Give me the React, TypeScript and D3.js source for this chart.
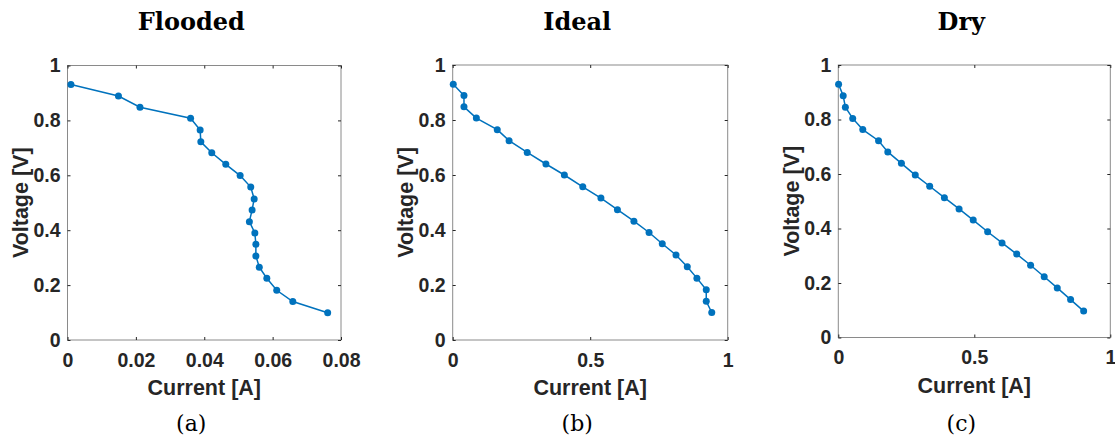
import React, { useEffect, useRef } from 'react';
import * as d3 from 'd3';

// Current [A] / Voltage [V]
const floodedCurrent = [0.001, 0.0149, 0.0212, 0.036, 0.0388, 0.039, 0.0422, 0.0463, 0.0505, 0.0536, 0.0546, 0.054, 0.0532, 0.0548, 0.0551, 0.0551, 0.0561, 0.0583, 0.0612, 0.0659, 0.0761];
const floodedVoltage = [0.931, 0.889, 0.848, 0.808, 0.765, 0.722, 0.682, 0.640, 0.599, 0.557, 0.514, 0.474, 0.431, 0.390, 0.349, 0.306, 0.265, 0.225, 0.181, 0.140, 0.099];

const idealCurrent = [0.002, 0.041, 0.041, 0.086, 0.162, 0.205, 0.271, 0.339, 0.406, 0.473, 0.539, 0.599, 0.659, 0.714, 0.762, 0.812, 0.853, 0.888, 0.922, 0.922, 0.942];
const idealVoltage = [0.930, 0.889, 0.848, 0.807, 0.765, 0.725, 0.682, 0.640, 0.600, 0.557, 0.516, 0.474, 0.432, 0.391, 0.350, 0.309, 0.266, 0.225, 0.183, 0.141, 0.100];

const dryCurrent = [0.001, 0.018, 0.026, 0.053, 0.090, 0.148, 0.182, 0.232, 0.283, 0.336, 0.390, 0.444, 0.496, 0.549, 0.602, 0.656, 0.707, 0.757, 0.805, 0.854, 0.902];
const dryVoltage = [0.929, 0.887, 0.845, 0.804, 0.763, 0.722, 0.681, 0.639, 0.596, 0.555, 0.513, 0.472, 0.431, 0.388, 0.347, 0.306, 0.265, 0.223, 0.182, 0.139, 0.097];

const titles = ['Flooded', 'Ideal', 'Dry'];
const captions = ['(a)', '(b)', '(c)'];
const xTicksFlooded = [0, 0.02, 0.04, 0.06, 0.08];
const xTicksOther = [0, 0.5, 1];
const yTicks = [0, 0.2, 0.4, 0.6, 0.8, 1];

const panels = [
  { cur: floodedCurrent, volt: floodedVoltage, xMax: 0.08, xTicks: xTicksFlooded, left: 67.5, top: 65.5, w: 273.5, h: 274.5 },
  { cur: idealCurrent, volt: idealVoltage, xMax: 1, xTicks: xTicksOther, left: 452.7, top: 65, w: 275, h: 275 },
  { cur: dryCurrent, volt: dryVoltage, xMax: 1, xTicks: xTicksOther, left: 838.3, top: 65, w: 272, h: 272.5 },
];

const fmt = (v: number) => (v === 0 ? '0' : v === 1 ? '1' : String(+v.toFixed(2)));

const App = () => {
  const ref = useRef<SVGSVGElement>(null);

  useEffect(() => {
    const svg = d3.select(ref.current);
    svg.selectAll('*').remove();

    panels.forEach((p, i) => {
      const x = d3.scaleLinear().domain([0, p.xMax]).range([p.left, p.left + p.w]);
      const y = d3.scaleLinear().domain([0, 1]).range([p.top + p.h, p.top]);
      const g = svg.append('g');
      const cx = p.left + p.w / 2;

      g.append('rect')
        .attr('x', p.left).attr('y', p.top)
        .attr('width', p.w).attr('height', p.h)
        .attr('fill', 'white').attr('stroke', '#8a8a8a').attr('stroke-width', 1);

      const tickStyle = (sel: any) => {
        sel.select('.domain').remove();
        sel.selectAll('.tick line').attr('stroke', '#262626');
        sel.selectAll('.tick text')
          .attr('fill', '#262626')
          .attr('font-family', '"Liberation Sans", Arial, sans-serif')
          .attr('font-weight', 'bold')
          .attr('font-size', 19.5);
      };

      g.append('g')
        .attr('transform', `translate(0,${p.top + p.h})`)
        .call(d3.axisBottom(x).tickValues(p.xTicks).tickSize(-3).tickPadding(13).tickFormat(d => fmt(+d)))
        .call(tickStyle);
      g.append('g')
        .attr('transform', `translate(0,${p.top})`)
        .call(d3.axisTop(x).tickValues(p.xTicks).tickSize(-3).tickFormat(() => ''))
        .call(tickStyle);
      g.append('g')
        .attr('transform', `translate(${p.left},0)`)
        .call(d3.axisLeft(y).tickValues(yTicks).tickSize(-3).tickPadding(7).tickFormat(d => fmt(+d)))
        .call(tickStyle);
      g.append('g')
        .attr('transform', `translate(${p.left + p.w},0)`)
        .call(d3.axisRight(y).tickValues(yTicks).tickSize(-3).tickFormat(() => ''))
        .call(tickStyle);

      const pts = p.cur.map((c, k) => [c, p.volt[k]] as [number, number]);
      g.append('path')
        .datum(pts)
        .attr('fill', 'none')
        .attr('stroke', '#0072BD')
        .attr('stroke-width', 1.5)
        .attr('d', d3.line<[number, number]>().x(d => x(d[0])).y(d => y(d[1])));
      g.append('g')
        .attr('fill', '#0072BD')
        .selectAll('circle')
        .data(pts)
        .join('circle')
        .attr('cx', d => x(d[0]))
        .attr('cy', d => y(d[1]))
        .attr('r', 3.5);

      g.append('text')
        .attr('x', cx).attr('y', p.top + p.h + 55)
        .attr('text-anchor', 'middle')
        .attr('fill', '#262626')
        .attr('font-family', '"Liberation Sans", Arial, sans-serif')
        .attr('font-weight', 'bold')
        .attr('font-size', 21.5)
        .text('Current [A]');
      g.append('text')
        .attr('transform', `translate(${p.left - 39.5},${p.top + p.h / 2}) rotate(-90)`)
        .attr('text-anchor', 'middle')
        .attr('fill', '#262626')
        .attr('font-family', '"Liberation Sans", Arial, sans-serif')
        .attr('font-weight', 'bold')
        .attr('font-size', 21.5)
        .text('Voltage [V]');

      g.append('text')
        .attr('x', cx - 13).attr('y', 30)
        .attr('text-anchor', 'middle')
        .attr('fill', 'black')
        .attr('font-family', '"DejaVu Serif", serif')
        .attr('font-weight', 'bold')
        .attr('font-size', 24)
        .text(titles[i]);
      g.append('text')
        .attr('x', cx - 13).attr('y', 431)
        .attr('text-anchor', 'middle')
        .attr('fill', 'black')
        .attr('font-family', '"DejaVu Serif", serif')
        .attr('font-size', 22)
        .text(captions[i]);
    });
  }, []);

  return (
    <svg ref={ref} width={1115} height={447} style={{ position: 'absolute', left: 0, top: 0, background: 'white' }} />
  );
};

export default App;
